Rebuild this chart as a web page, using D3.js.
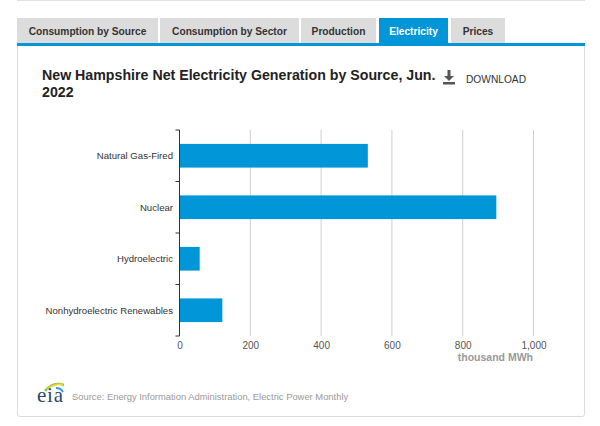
<!DOCTYPE html>
<html>
<head>
<meta charset="utf-8">
<script src="https://cdn.jsdelivr.net/npm/d3@7"></script>
<style>
  html, body { margin: 0; padding: 0; background: #fff; }
  svg { display: block; font-family: "Liberation Sans", Arial, sans-serif; }
</style>
</head>
<body>
<svg id="chart" width="600" height="426"></svg>
<script>
// ---- data ----
const categories = ["Natural Gas-Fired", "Nuclear", "Hydroelectric", "Nonhydroelectric Renewables"];
const values = [532, 895, 57, 121];
const xTicks = [0, 200, 400, 600, 800, 1000];
const tabs = ["Consumption by Source", "Consumption by Sector", "Production", "Electricity", "Prices"];
const activeTab = "Electricity";
const titleLines = ["New Hampshire Net Electricity Generation by Source, Jun.", "2022"];
const unitLabel = "thousand MWh";
const sourceText = "Source: Energy Information Administration, Electric Power Monthly";

const BLUE = "#0096d7";
const svg = d3.select("#chart");

// ---- frame ----
svg.append("line").attr("x1", 17).attr("x2", 585).attr("y1", 0.5).attr("y2", 0.5)
  .attr("stroke", "#e2e2e2");

// panel
svg.append("path")
  .attr("d", "M17.5,46 L17.5,414 Q17.5,416.5 20,416.5 L582,416.5 Q584.5,416.5 584.5,414 L584.5,46")
  .attr("fill", "#fff").attr("stroke", "#dcdcdc");

// tabs
const tabX = [[17, 158], [160, 299], [301, 376], [379, 448], [451, 505]];
const tg = svg.append("g");
tabs.forEach((t, i) => {
  const [a, b] = tabX[i];
  const active = t === activeTab;
  tg.append("rect").attr("x", a).attr("y", 18).attr("width", b - a).attr("height", 26)
    .attr("fill", active ? BLUE : "#dcdcdc");
  tg.append("text").attr("x", (a + b) / 2).attr("y", 35)
    .attr("text-anchor", "middle").attr("font-size", 10.2).attr("font-weight", "bold")
    .attr("fill", active ? "#fff" : "#333").text(t);
});
svg.append("rect").attr("x", 17).attr("y", 43).attr("width", 568).attr("height", 3).attr("fill", BLUE);

// title
const title = svg.append("text").attr("x", 42).attr("y", 79.5)
  .attr("font-size", 14.2).attr("font-weight", "bold").attr("fill", "#222");
titleLines.forEach((l, i) => title.append("tspan").attr("x", 42).attr("dy", i ? 17.5 : 0).text(l));

// download icon
const dl = svg.append("g").attr("fill", "#555");
dl.append("rect").attr("x", 447.5).attr("y", 70).attr("width", 3).attr("height", 7);
dl.append("path").attr("d", "M444,76 L454,76 L449,81 Z");
dl.append("rect").attr("x", 443).attr("y", 82).attr("width", 12).attr("height", 2.5);
svg.append("text").attr("x", 466).attr("y", 83).attr("font-size", 10.2).attr("fill", "#333").text("DOWNLOAD");

// ---- chart ----
const x = d3.scaleLinear().domain([0, 1000]).range([179.5, 533.5]);
const y = d3.scaleBand().domain(categories).range([130, 336]).paddingInner(0.54).paddingOuter(0.27);

// gridlines
svg.append("g").selectAll("line").data(xTicks.filter(d => d > 0)).join("line")
  .attr("x1", d => x(d)).attr("x2", d => x(d)).attr("y1", 130).attr("y2", 336)
  .attr("stroke", "#cfcfcf").attr("stroke-width", 1);

// bars
svg.append("g").selectAll("rect").data(categories).join("rect")
  .attr("x", x(0)).attr("y", d => y(d))
  .attr("width", (d, i) => x(values[i]) - x(0)).attr("height", y.bandwidth())
  .attr("fill", BLUE);

// y axis line and boundary ticks
const step = y.step();
const bounds = d3.range(categories.length + 1).map(i => 130 + i * step);
svg.append("line").attr("x1", x(0)).attr("x2", x(0)).attr("y1", 130).attr("y2", 336)
  .attr("stroke", "#333").attr("stroke-width", 1);
svg.append("g").selectAll("line").data(bounds).join("line")
  .attr("x1", x(0) - 4).attr("x2", x(0)).attr("y1", d => d).attr("y2", d => d)
  .attr("stroke", "#333");

// category labels
svg.append("g").selectAll("text").data(categories).join("text")
  .attr("x", 173).attr("y", d => y(d) + y.bandwidth() / 2 + 3.5)
  .attr("text-anchor", "end").attr("font-size", 9.6).attr("fill", "#333").text(d => d);

// x axis
const xAxis = d3.axisBottom(x).tickValues(xTicks).tickSize(0).tickPadding(6)
  .tickFormat(d3.format(","));
const gx = svg.append("g").attr("transform", "translate(0,336)").call(xAxis);
gx.select(".domain").remove();
gx.selectAll("text").attr("font-size", 10).attr("fill", "#555")
  .attr("font-family", "'Liberation Sans', Arial, sans-serif");

svg.append("text").attr("x", 533).attr("y", 361).attr("text-anchor", "end")
  .attr("font-size", 10.5).attr("font-weight", "bold").attr("fill", "#999").text(unitLabel);

// ---- source / logo ----
const logo = svg.append("g");
logo.append("path").attr("d", "M45,391 Q53,381 64,385").attr("fill", "none")
  .attr("stroke", "#8cc63f").attr("stroke-width", 2.4);
logo.append("path").attr("d", "M47,389 Q55,383 63,384.5").attr("fill", "none")
  .attr("stroke", "#f2d33a").attr("stroke-width", 1.4);
logo.append("path").attr("d", "M56,388 Q61,388 63,392").attr("fill", "none")
  .attr("stroke", "#2fa4d9").attr("stroke-width", 1.8);
logo.append("text").attr("x", 37).attr("y", 401.5).attr("font-family", "'Liberation Serif', 'DejaVu Serif', serif")
  .attr("font-size", 21).attr("textLength", 26).attr("fill", "#2c4a66").text("eia");

svg.append("text").attr("x", 72).attr("y", 400).attr("font-size", 9.4).attr("fill", "#999").text(sourceText);
</script>
</body>
</html>
